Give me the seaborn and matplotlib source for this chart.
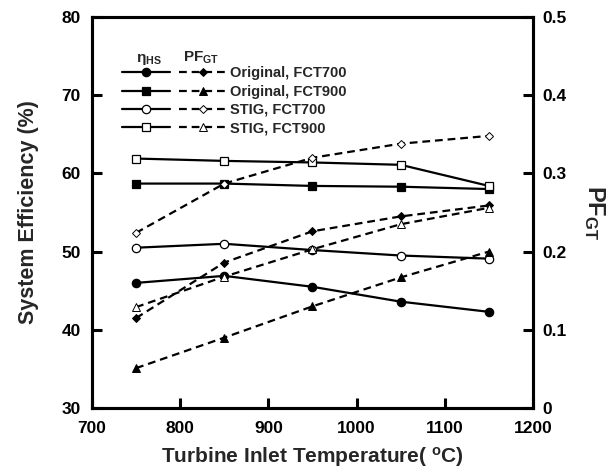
import matplotlib
matplotlib.use("Agg")
import matplotlib.pyplot as plt
import seaborn as sns
import pandas as pd
from matplotlib.lines import Line2D
from matplotlib.legend_handler import HandlerTuple

# data
tit = [750, 850, 950, 1050, 1150]

eff_orig_700 = [46.0, 46.9, 45.5, 43.6, 42.3]
eff_orig_900 = [58.7, 58.7, 58.4, 58.3, 58.0]
eff_stig_700 = [50.5, 51.0, 50.2, 49.5, 49.1]
eff_stig_900 = [61.9, 61.6, 61.4, 61.1, 58.4]

pf_orig_700 = [0.115, 0.186, 0.226, 0.245, 0.259]
pf_orig_900 = [0.051, 0.090, 0.130, 0.167, 0.200]
pf_stig_700 = [0.224, 0.287, 0.320, 0.338, 0.348]
pf_stig_900 = [0.129, 0.168, 0.203, 0.235, 0.256]

labels = ["Original, FCT700", "Original, FCT900", "STIG, FCT700", "STIG, FCT900"]

sns.set_style("ticks")
plt.rcParams["font.family"] = ["Liberation Sans", "DejaVu Sans"]
plt.rcParams["font.weight"] = "bold"
plt.rcParams["mathtext.fontset"] = "custom"
plt.rcParams["mathtext.rm"] = "Liberation Sans:bold"
plt.rcParams["mathtext.it"] = "Liberation Sans:bold"
plt.rcParams["mathtext.bf"] = "Liberation Sans:bold"

fig = plt.figure(figsize=(6.14, 4.70), dpi=100)
ax = fig.add_axes([0.1498, 0.1319, 0.7182, 0.8319])
ax2 = ax.twinx()

df = pd.DataFrame({"T": tit})
dash = (0, (3.5, 2.2))

eff_series = [
    (eff_orig_700, "o", "black", 6),
    (eff_orig_900, "s", "black", 6),
    (eff_stig_700, "o", "white", 6),
    (eff_stig_900, "s", "white", 6),
]
pf_series = [
    (pf_orig_700, "D", "black", 4.3),
    (pf_orig_900, "^", "black", 5.5),
    (pf_stig_700, "D", "white", 4.3),
    (pf_stig_900, "^", "white", 5.5),
]

handles = []
for (ev, em, ec, es), (pv, pm, pc, ps) in zip(eff_series, pf_series):
    d = df.assign(eff=ev, pf=pv)
    sns.lineplot(data=d, x="T", y="eff", ax=ax, color="black", lw=1.6,
                 marker=em, markersize=es, markerfacecolor=ec,
                 markeredgecolor="black", markeredgewidth=0.9, zorder=3)
    sns.lineplot(data=d, x="T", y="pf", ax=ax2, color="black", lw=1.6,
                 linestyle=dash, marker=pm, markersize=ps,
                 markerfacecolor=pc, markeredgecolor="black",
                 markeredgewidth=0.7, zorder=3)
    h1 = Line2D([], [], color="black", lw=1.6, marker=em, markersize=es,
                markerfacecolor=ec, markeredgecolor="black", markeredgewidth=0.9)
    h2 = Line2D([], [], color="black", lw=1.6, linestyle=dash,
                marker=pm, markersize=ps, markerfacecolor=pc,
                markeredgecolor="black", markeredgewidth=0.7)
    handles.append((h1, h2))

ax.set_xlim(700, 1200)
ax.set_ylim(30, 80)
ax2.set_ylim(0, 0.5)
ax.set_xticks([700, 800, 900, 1000, 1100, 1200])
ax.set_yticks([30, 40, 50, 60, 70, 80])
ax2.set_yticks([0, 0.1, 0.2, 0.3, 0.4, 0.5])
ax2.set_yticklabels(["0", "0.1", "0.2", "0.3", "0.4", "0.5"])

ax.set_xlabel(r"Turbine Inlet Temperature( $^{\mathrm{o}}$C)", fontsize=15,
              fontweight="bold", labelpad=7)
ax.set_ylabel("System Efficiency (%)", fontsize=15.5, fontweight="bold", labelpad=16)
ax2.set_ylabel(r"$\mathrm{PF_{GT}}$", fontsize=17, rotation=270, labelpad=29)

for a in (ax, ax2):
    for s in a.spines.values():
        s.set_linewidth(2.2)
        s.set_color("black")
    a.tick_params(direction="in", length=7, width=2.2, labelsize=12.5, colors="black")
ax.tick_params(axis="x", pad=9)
ax.tick_params(axis="y", pad=8)
ax2.tick_params(axis="y", pad=7)

leg = ax.legend(handles, labels, handler_map={tuple: HandlerTuple(ndivide=None, pad=0.6)},
                loc="upper left", bbox_to_anchor=(0.055, 0.889), frameon=False,
                handlelength=7.2, handletextpad=0.2, labelspacing=0.3,
                prop={"size": 10.5, "weight": "bold"}, borderaxespad=0)
ax.text(0.128, 0.885, r"$\mathrm{\eta_{HS}}$", transform=ax.transAxes, fontsize=11,
        ha="center", va="baseline")
ax.text(0.247, 0.885, r"$\mathrm{PF_{GT}}$", transform=ax.transAxes, fontsize=11,
        ha="center", va="baseline")

fig.savefig("out.png", dpi=100)
